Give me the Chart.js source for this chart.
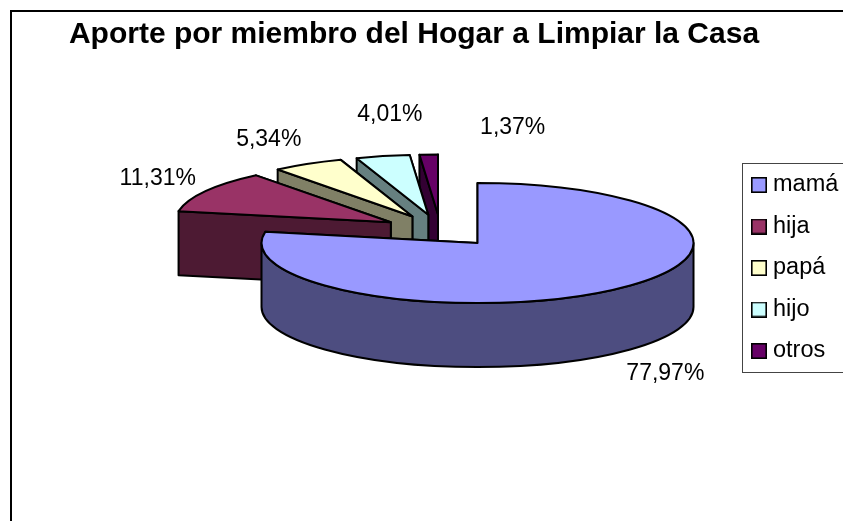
<!DOCTYPE html>
<html>
<head>
<meta charset="utf-8">
<style>
  html, body { margin: 0; padding: 0; background: #fff; }
  canvas { display: block; }
</style>
<script src="https://cdn.jsdelivr.net/npm/chart.js@4/dist/chart.umd.js"></script>
</head>
<body>
<canvas id="chart" width="843" height="521"></canvas>
<script>
const titleText = 'Aporte por miembro del Hogar a Limpiar la Casa';
const categories = ['mamá', 'hija', 'papá', 'hijo', 'otros'];
const shares = [77.97, 11.31, 5.34, 4.01, 1.37];
const topColors = ['#9999ff', '#993366', '#ffffcc', '#ccffff', '#660066'];
const wallColors = ['#4d4d80', '#4d1a33', '#808066', '#668080', '#330033'];

// 3d look of the old pie: flattening, wall height, how far slices pull out
const flatten = 0.278;
const wallHeight = 64;
const explode = 58;
const lineWidth = 2;
const fontFamily = '"Liberation Sans", Arial, sans-serif';
// label shift from the rim of its slice, these were moved by hand in the original
const labelNudge = [[50, 84], [-48, -13], [-39, -24], [7, -41], [84, -27]];

function sliceGeometry(arc) {
  const mid = (arc.startAngle + arc.endAngle) / 2;
  return {
    cx: arc.x + Math.cos(mid) * explode,
    cy: arc.y + Math.sin(mid) * explode * flatten,
    rx: arc.outerRadius,
    ry: arc.outerRadius * flatten,
    start: arc.startAngle,
    end: arc.endAngle,
    mid: mid
  };
}

function drawRadialWall(ctx, g, angle, color) {
  const px = g.cx + Math.cos(angle) * g.rx;
  const py = g.cy + Math.sin(angle) * g.ry;
  ctx.beginPath();
  ctx.moveTo(g.cx, g.cy);
  ctx.lineTo(px, py);
  ctx.lineTo(px, py + wallHeight);
  ctx.lineTo(g.cx, g.cy + wallHeight);
  ctx.closePath();
  ctx.fillStyle = color;
  ctx.fill();
  ctx.stroke();
}

function drawOuterWall(ctx, g, color) {
  const from = Math.max(g.start, 0);
  const to = Math.min(g.end, Math.PI);
  if (to <= from) return;
  ctx.beginPath();
  ctx.ellipse(g.cx, g.cy, g.rx, g.ry, 0, from, to);
  ctx.ellipse(g.cx, g.cy + wallHeight, g.rx, g.ry, 0, to, from, true);
  ctx.closePath();
  ctx.fillStyle = color;
  ctx.fill();
  ctx.stroke();
}

// legend swatch, drawn as an image so the text can sit closer than the library's gap
function makeSwatch(color) {
  const c = document.createElement('canvas');
  c.width = 16;
  c.height = 16;
  const x = c.getContext('2d');
  x.fillStyle = color;
  x.fillRect(0, 0, 16, 16);
  x.strokeStyle = '#000';
  x.lineWidth = 1.6;
  x.strokeRect(0.8, 0.8, 14.4, 14.4);
  return c;
}

const pie3d = {
  id: 'pie3d',
  beforeDraw(chart) {
    // chart frame, its right and bottom sides are cut off by the picture
    const ctx = chart.ctx;
    ctx.save();
    ctx.strokeStyle = '#000';
    ctx.lineWidth = 2;
    ctx.strokeRect(11, 11, chart.width + 20, chart.height + 20);
    ctx.strokeStyle = '#444';
    ctx.lineWidth = 1;
    ctx.strokeRect(742.5, 163.5, 120, 209);
    ctx.restore();
  },
  afterLayout(chart) {
    chart.titleBlock.left = -15;
    chart.titleBlock.right = 843;
    // park the legend in its box on the right
    const lg = chart.legend;
    lg.left = 738.75;
    lg.top = 155.25;
    lg.right = 843;
    lg.bottom = 400;
    lg.width = lg.right - lg.left;
    lg.height = lg.bottom - lg.top;
  },
  beforeDatasetDraw(chart, args) {
    const ctx = chart.ctx;
    const arcs = args.meta.data;
    // back slices first, mamá sits in front of everything
    for (let i = arcs.length - 1; i >= 0; i--) {
      const arc = arcs[i];
      const g = sliceGeometry(arc);
      ctx.save();
      ctx.lineWidth = lineWidth;
      ctx.lineJoin = 'round';
      ctx.strokeStyle = '#000';
      drawRadialWall(ctx, g, g.end, wallColors[i]);
      drawRadialWall(ctx, g, g.start, wallColors[i]);
      drawOuterWall(ctx, g, wallColors[i]);

      // top face is the library's own arc, squashed
      ctx.save();
      ctx.translate(g.cx, g.cy);
      ctx.scale(1, flatten);
      ctx.translate(-arc.x, -arc.y);
      arc.draw(ctx);
      ctx.restore();

      ctx.beginPath();
      ctx.moveTo(g.cx, g.cy);
      ctx.ellipse(g.cx, g.cy, g.rx, g.ry, 0, g.start, g.end);
      ctx.closePath();
      ctx.stroke();
      ctx.restore();
    }
    return false;
  },
  afterDatasetsDraw(chart) {
    const ctx = chart.ctx;
    ctx.save();
    ctx.font = '23px ' + fontFamily;
    ctx.fillStyle = '#000';
    ctx.textAlign = 'center';
    ctx.textBaseline = 'middle';
    chart.getDatasetMeta(0).data.forEach((arc, i) => {
      const g = sliceGeometry(arc);
      const x = g.cx + Math.cos(g.mid) * g.rx + labelNudge[i][0];
      const y = g.cy + Math.sin(g.mid) * g.ry + labelNudge[i][1];
      ctx.fillText(shares[i].toFixed(2).replace('.', ',') + '%', x, y);
    });
    ctx.restore();
  }
};

const defaultLabels = Chart.overrides.pie.plugins.legend.labels.generateLabels;

new Chart(document.getElementById('chart'), {
  type: 'pie',
  data: {
    labels: categories,
    datasets: [{
      data: shares,
      backgroundColor: topColors,
      borderWidth: 0,
      radius: 216
    }]
  },
  options: {
    responsive: false,
    animation: false,
    events: [],
    layout: { padding: { left: 38, right: 0, top: 0, bottom: 112.8 } },
    plugins: {
      tooltip: { enabled: false },
      title: {
        display: true,
        text: titleText,
        color: '#000',
        font: { family: fontFamily, size: 30, weight: 'bold', lineHeight: 1.2 },
        padding: { top: 17, bottom: 0 }
      },
      legend: {
        position: 'chartArea',
        align: 'start',
        labels: {
          color: '#000',
          font: { family: fontFamily, size: 23.5 },
          usePointStyle: true,
          pointStyleWidth: 4.5,
          boxHeight: 16,
          padding: 18,
          generateLabels(chart) {
            return defaultLabels(chart).map((item, i) => Object.assign(item, { pointStyle: makeSwatch(topColors[i]) }));
          }
        }
      }
    }
  },
  plugins: [pie3d]
});
</script>
</body>
</html>
